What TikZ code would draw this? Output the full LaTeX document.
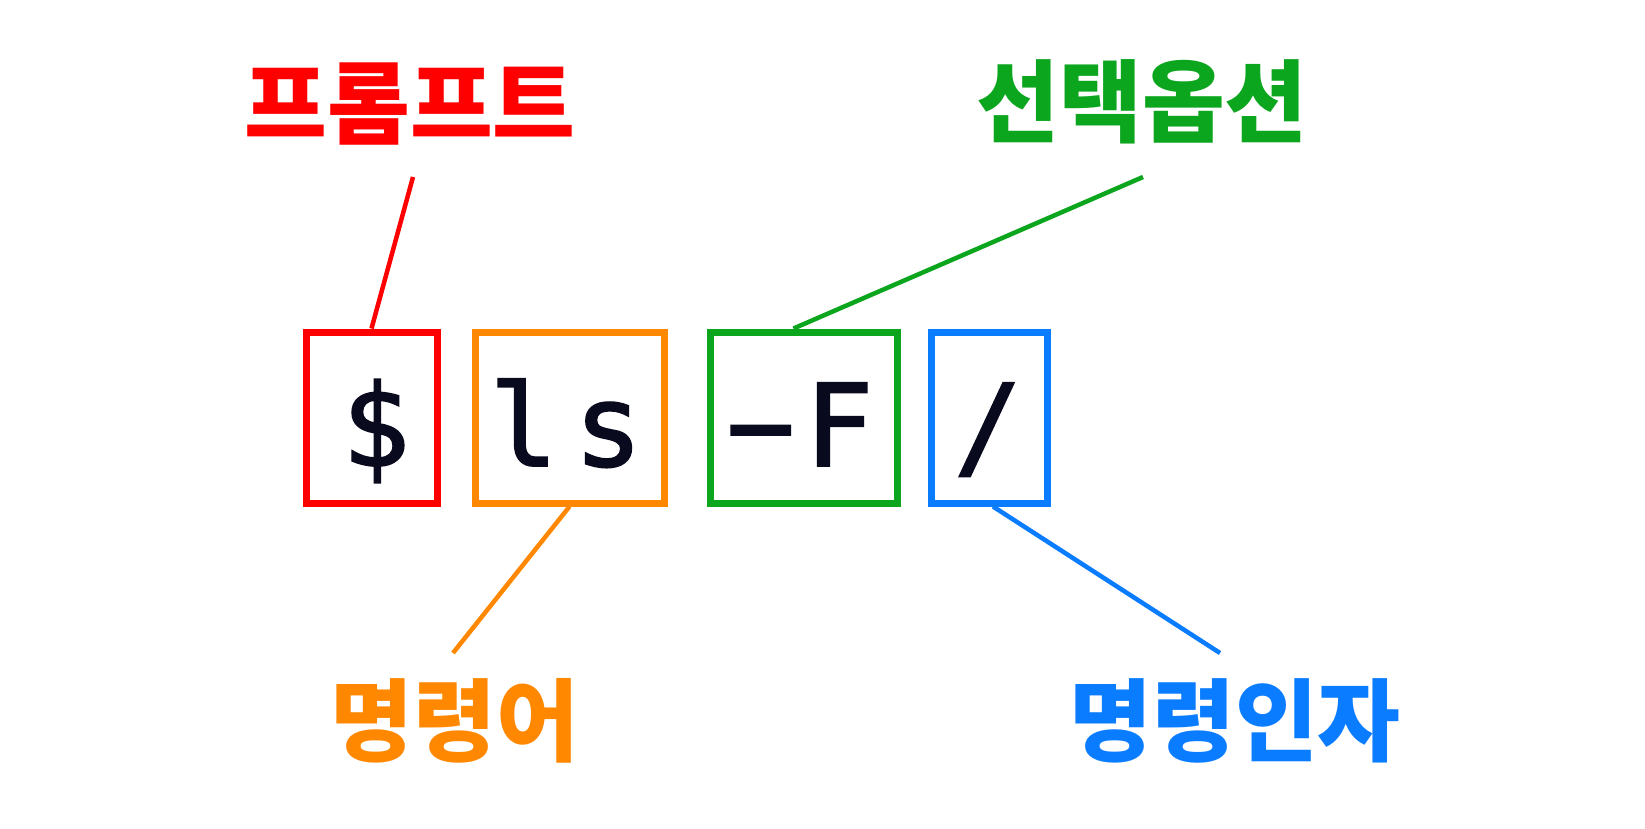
\documentclass[tikz,border=0pt]{standalone}
\usepackage{fontspec}
\newfontfamily\krfont{Noto Sans CJK KR}
\newfontfamily\cmdfont[FakeBold=1.6]{DejaVu Sans Mono}
\definecolor{cred}{RGB}{255,0,0}
\definecolor{corange}{RGB}{255,136,0}
\definecolor{cgreen}{RGB}{12,166,30}
\definecolor{cblue}{RGB}{10,124,255}
\definecolor{cink}{RGB}{10,10,30}
\tikzset{
  tokbox/.style={draw=#1, line width=7pt, rectangle, minimum height=171pt, inner sep=0pt},
  toktext/.style={anchor=base, text=cink, font=\cmdfont\fontsize{114}{114}\selectfont, inner sep=0pt},
  lbl/.style={anchor=base, text=#1, font=\krfont\bfseries\fontsize{90}{90}\selectfont, inner sep=0pt},
  conn/.style={draw=#1, line width=4.5pt}
}
\begin{document}
\begin{tikzpicture}[x=1pt,y=-1pt]
\useasboundingbox[fill=white] (0,0) rectangle (1645,829);
% boxes
\node[tokbox=cred, minimum width=131pt] (b1) at (371.5,417.5) {};
\node[tokbox=corange, minimum width=189pt] (b2) at (569.5,417.5) {};
\node[tokbox=cgreen, minimum width=187pt] (b3) at (803.5,417.5) {};
\node[tokbox=cblue, minimum width=116pt] (b4) at (989,417.5) {};
% box texts
\node[toktext] (t1) at (376,466) {\$};
\node[toktext] (t2) at (566,466) {l\kern16pt s};
\node[toktext] (t3) at (800,466) {−\kern10pt F};
\node[toktext] (t4) at (988,466) {/};
% labels
\node[lbl=cred] (l1) at (410,138) {프롬프트};
\node[lbl=cgreen] (l3) at (1142,136) {선택옵션};
\node[lbl=corange] (l2) at (455,754) {명령어};
\node[lbl=cblue] (l4) at (1235,754) {명령인자};
% connector free ends
\coordinate (e1) at (413,177);
\coordinate (e3) at (1143,177);
\coordinate (e2) at (453,653);
\coordinate (e4) at (1220,653);
\draw[conn=cred] (e1) -- (b1.north);
\draw[conn=cgreen] (e3) -- ([xshift=-10pt]b3.north);
\draw[conn=corange] (b2.south) -- (e2);
\draw[conn=cblue] ([xshift=4pt]b4.south) -- (e4);
\end{tikzpicture}
\end{document}
